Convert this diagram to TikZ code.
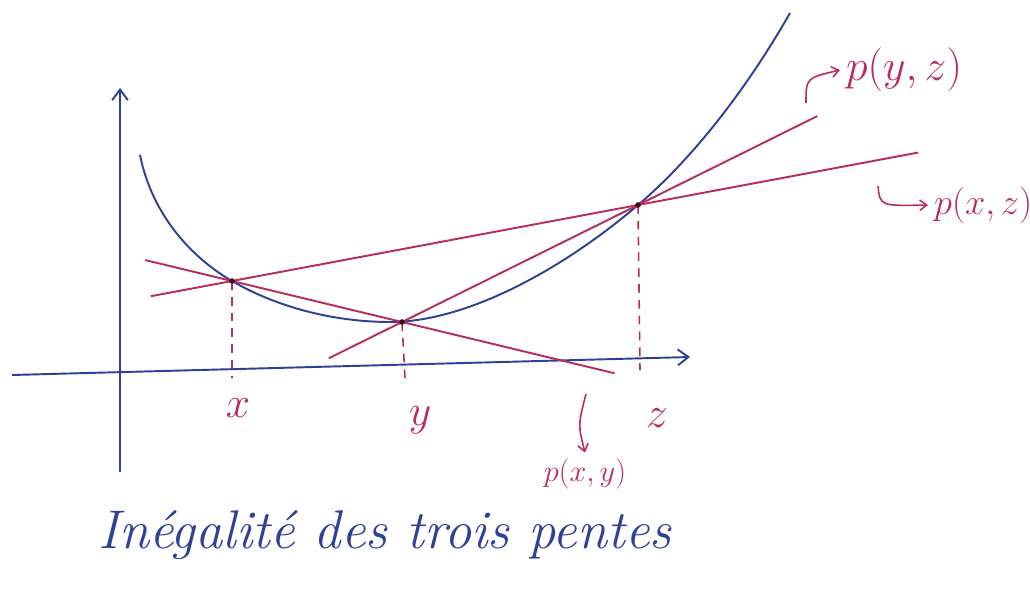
\documentclass[tikz,border=0pt]{standalone}
\usepackage{tikz}
\usetikzlibrary{arrows.meta,calc}
\definecolor{InkBlue}{RGB}{45,  65, 150}
\definecolor{InkRed} {RGB}{185, 45,  90}

\begin{document}
\begin{tikzpicture}[x=0.02cm, y=-0.02cm,
    axe/.style={InkBlue, line width=1.1pt, -{Straight Barb[length=6pt,width=9pt]}},
    courbe/.style={InkBlue, line width=1.1pt},
    corde/.style={InkRed, line width=1.1pt},
    pointille/.style={InkRed, line width=0.9pt, dash pattern=on 5pt off 4pt},
    renvoi/.style={InkRed, line width=0.9pt, -{Straight Barb[length=4pt,width=6pt]}},
    etiq/.style={InkRed, font=\fontsize{24}{26}\selectfont}]
  \useasboundingbox (0,0) rectangle (1030,595);

  \coordinate (O1) at (12,375);   \coordinate (O2) at (690,357);
  \coordinate (V1) at (120,472);  \coordinate (V2) at (120,88);
  \draw[axe] (O1) -- (O2);
  \draw[axe] (V1) -- (V2);

  \coordinate (A) at (232,281);
  \coordinate (B) at (402,322);
  \coordinate (C) at (638,205);
  \coordinate (M) at (390,322);

  \draw[courbe] (140,155) .. controls (152,215) and (192,258) .. (A)
    .. controls (282,310) and (340,322) .. (M)
    .. controls (470,322) and (568,265) .. (C)
    .. controls (690,161) and (745,92) .. (790,13);

  \draw[corde] ($(A)!-0.51!(B)$) -- ($(A)!2.25!(B)$);
  \draw[corde] ($(A)!-0.20!(C)$) -- ($(A)!1.69!(C)$);
  \draw[corde] ($(B)!-0.31!(C)$) -- ($(B)!1.76!(C)$);

  \coordinate (xa) at (232,378);
  \coordinate (ya) at (405,378);
  \coordinate (za) at (640,370);
  \draw[pointille] (A) -- (xa);
  \draw[pointille] (B) -- (ya);
  \draw[pointille] (C) -- (za);

  \foreach \p in {A,B,C}
    \fill[black!70!InkRed] (\p) circle (1.6pt);

  \node[etiq] (lx) at (238,408) {$x$};
  \node[etiq] (ly) at (420,420) {$y$};
  \node[etiq] (lz) at (657,418) {$z$};

  \node[InkRed, font=\fontsize{18}{20}\selectfont] (pxy) at (585,474) {$p(x,y)$};
  \node[InkRed, font=\fontsize{23}{25}\selectfont, anchor=west] (pyz) at (840,70) {$p(y,z)$};
  \node[InkRed, font=\fontsize{21}{23}\selectfont, anchor=west] (pxz) at (928,205) {$p(x,z)$};

  \coordinate (dxy) at (586,394);
  \coordinate (dyz) at (806,103);
  \coordinate (dxz) at (878,186);
  \draw[renvoi] (dxy) .. controls (578,425) .. (pxy.north);
  \draw[renvoi] (dyz) .. controls (806,78) .. (pyz.west);
  \draw[renvoi] (dxz) .. controls (880,206) .. (pxz.west);

  \node[InkBlue, font=\fontsize{31}{35}\selectfont\itshape] (titre) at (385,535)
    {Inégalité des trois pentes};
\end{tikzpicture}
\end{document}
